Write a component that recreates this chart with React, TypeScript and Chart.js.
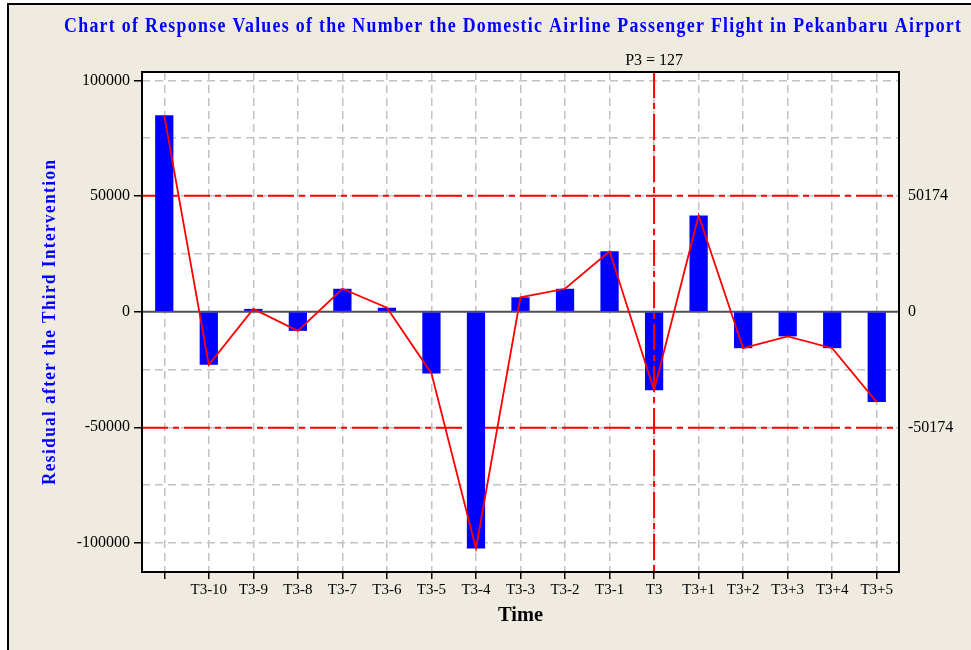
import React, { useEffect, useRef } from "react";
import { Chart, registerables } from "chart.js";

Chart.register(...registerables);

// ---------- data ----------
const categories = ["", "T3-10", "T3-9", "T3-8", "T3-7", "T3-6", "T3-5", "T3-4", "T3-3", "T3-2", "T3-1", "T3", "T3+1", "T3+2", "T3+3", "T3+4", "T3+5"];
const residuals = [84900, -23000, 1200, -8300, 9900, 1700, -26700, -102400, 6200, 9900, 26100, -34000, 41600, -15800, -10700, -15800, -39100];
const controlLimits = [50174, -50174];
const rightLabelValues = [50174, 0, -50174];
const rightLabelTexts = ["50174", "0", "-50174"];
const interventionCategory = "T3";
const interventionText = "P3 = 127";
const yMin = -112600;
const yMax = 103650;
const yTickValues = [-100000, -75000, -50000, -25000, 0, 25000, 50000, 75000, 100000];
const yLabelStep = 50000;

const titleText = "Chart of Response Values of the Number the Domestic Airline Passenger Flight in Pekanbaru Airport";
const yTitleText = "Residual after the Third Intervention";
const xTitleText = "Time";

// ---------- styles ----------
const BEIGE = "#F0EBE1";
const GRID = "#C2C2C2";
const SERIF = "'Liberation Serif', 'Times New Roman', serif";
const DASHDOT = [26, 5, 6, 5];

function drawStretched(ctx: CanvasRenderingContext2D, text: string, x: number, y: number, targetWidth: number, font: string, color: string, spacing: number) {
  ctx.save();
  ctx.font = font;
  (ctx as any).letterSpacing = spacing + "px";
  const w = ctx.measureText(text).width - spacing;
  const sx = targetWidth / w;
  ctx.translate(x, y);
  ctx.scale(sx, 1);
  ctx.fillStyle = color;
  ctx.textAlign = "left";
  ctx.textBaseline = "alphabetic";
  ctx.fillText(text, 0, 0);
  ctx.restore();
}

const framePlugin = {
  id: "framePlugin",
  beforeDraw(chart: any) {
    const { ctx, chartArea: a, width, height } = chart;
    ctx.save();
    ctx.fillStyle = "#ffffff";
    ctx.fillRect(0, 0, width, height);
    ctx.fillStyle = BEIGE;
    ctx.fillRect(8, 4, width - 8, height - 4);
    ctx.strokeStyle = "#000";
    ctx.lineWidth = 2;
    ctx.beginPath();
    ctx.moveTo(8, height);
    ctx.lineTo(8, 4);
    ctx.lineTo(width, 4);
    ctx.stroke();
    ctx.fillStyle = "#ffffff";
    ctx.fillRect(a.left, a.top, a.right - a.left, a.bottom - a.top);
    ctx.restore();
  },
  beforeDatasetsDraw(chart: any) {
    const { ctx, chartArea: a, scales } = chart;
    const y = scales.y;
    ctx.save();
    const y0 = y.getPixelForValue(0);
    ctx.strokeStyle = "#505050";
    ctx.lineWidth = 2;
    ctx.beginPath();
    ctx.moveTo(a.left, y0);
    ctx.lineTo(a.right, y0);
    ctx.stroke();
    ctx.strokeStyle = "#FF0000";
    ctx.lineWidth = 2;
    ctx.setLineDash(DASHDOT);
    controlLimits.forEach((v) => {
      const py = y.getPixelForValue(v);
      ctx.beginPath();
      ctx.moveTo(a.left, py);
      ctx.lineTo(a.right, py);
      ctx.stroke();
    });
    ctx.restore();
  },
  afterDatasetsDraw(chart: any) {
    const { ctx, chartArea: a, scales } = chart;
    const px = scales.x.getPixelForValue(categories.indexOf(interventionCategory));
    ctx.save();
    ctx.strokeStyle = "#FF0000";
    ctx.lineWidth = 2;
    ctx.setLineDash(DASHDOT);
    ctx.beginPath();
    ctx.moveTo(px, a.top);
    ctx.lineTo(px, a.bottom);
    ctx.stroke();
    ctx.restore();
  },
  afterDraw(chart: any) {
    const { ctx, chartArea: a, scales } = chart;
    const y = scales.y;
    ctx.save();
    ctx.strokeStyle = "#000";
    ctx.lineWidth = 2;
    ctx.strokeRect(a.left, a.top, a.right - a.left, a.bottom - a.top);

    ctx.fillStyle = "#000";
    ctx.font = `16px ${SERIF}`;
    ctx.textAlign = "left";
    ctx.textBaseline = "middle";
    rightLabelValues.forEach((v, i) => {
      ctx.fillText(rightLabelTexts[i], a.right + 9, y.getPixelForValue(v));
    });

    const px = scales.x.getPixelForValue(categories.indexOf(interventionCategory));
    ctx.textAlign = "center";
    ctx.textBaseline = "alphabetic";
    ctx.font = `16px ${SERIF}`;
    ctx.fillText(interventionText, px, a.top - 7);
    ctx.restore();

    drawStretched(ctx, titleText, 64, 32, 897, `bold 21px ${SERIF}`, "#0000FF", 1.5);

    ctx.save();
    ctx.translate(55, 485);
    ctx.rotate(-Math.PI / 2);
    drawStretched(ctx, yTitleText, 0, 0, 325, `bold 18px ${SERIF}`, "#0000FF", 1.5);
    ctx.restore();

    const cx = (a.left + a.right) / 2;
    drawStretched(ctx, xTitleText, cx - 22.5, 621, 45, `bold 22px ${SERIF}`, "#000000", 0);
  },
};

export default function App() {
  const canvasRef = useRef<HTMLCanvasElement | null>(null);

  useEffect(() => {
    const canvas = canvasRef.current;
    if (!canvas) return;
    const chart = new Chart(canvas, {
      type: "bar",
      data: {
        labels: categories,
        datasets: [
          {
            type: "line" as any,
            data: residuals,
            borderColor: "#FF0000",
            borderWidth: 1.8,
            pointRadius: 0,
            tension: 0,
            fill: false,
            order: 0,
          },
          {
            type: "bar",
            data: residuals,
            backgroundColor: "#0000FF",
            borderWidth: 0,
            barPercentage: 0.41,
            categoryPercentage: 1,
            order: 1,
          },
        ],
      },
      options: {
        responsive: false,
        animation: false,
        devicePixelRatio: 1,
        layout: { padding: { top: 72, right: 72, left: 0, bottom: 0 } },
        plugins: {
          legend: { display: false },
          tooltip: { enabled: false },
          title: { display: false },
        },
        scales: {
          x: {
            type: "category",
            offset: true,
            afterFit: (scale: any) => {
              scale.height = 78;
            },
            grid: {
              offset: false,
              color: GRID,
              lineWidth: 1.5,
              drawTicks: true,
              tickLength: 7,
              tickColor: "#000",
              tickWidth: 1.5,
              tickBorderDash: [],
            } as any,
            border: { display: false, dash: [8, 5] },
            ticks: {
              color: "#000",
              font: { family: SERIF, size: 15 },
              padding: 2,
              autoSkip: false,
              maxRotation: 0,
              minRotation: 0,
            },
          },
          y: {
            type: "linear",
            min: yMin,
            max: yMax,
            afterFit: (scale: any) => {
              scale.width = 142;
            },
            afterBuildTicks: (scale: any) => {
              scale.ticks = yTickValues.map((v) => ({ value: v }));
            },
            grid: {
              color: (c: any) => (c.tick && c.tick.value === 0 ? "rgba(0,0,0,0)" : GRID),
              lineWidth: 1.5,
              drawTicks: true,
              tickLength: 8,
              tickColor: (c: any) => (c.tick && c.tick.value % yLabelStep === 0 ? "#000" : "rgba(0,0,0,0)"),
              tickWidth: 1.5,
              tickBorderDash: [],
            } as any,
            border: { display: false, dash: [8, 5] },
            ticks: {
              autoSkip: false,
              color: "#000",
              font: { family: SERIF, size: 16 },
              padding: 4,
              callback: (v: any) => (Number(v) % yLabelStep === 0 ? String(v) : ""),
            },
          },
        },
      },
      plugins: [framePlugin],
    });
    return () => chart.destroy();
  }, []);

  return (
    <div style={{ position: "fixed", left: 0, top: 0, width: 971, height: 650 }}>
      <canvas ref={canvasRef} width={971} height={650} style={{ display: "block", width: 971, height: 650 }} />
    </div>
  );
}
